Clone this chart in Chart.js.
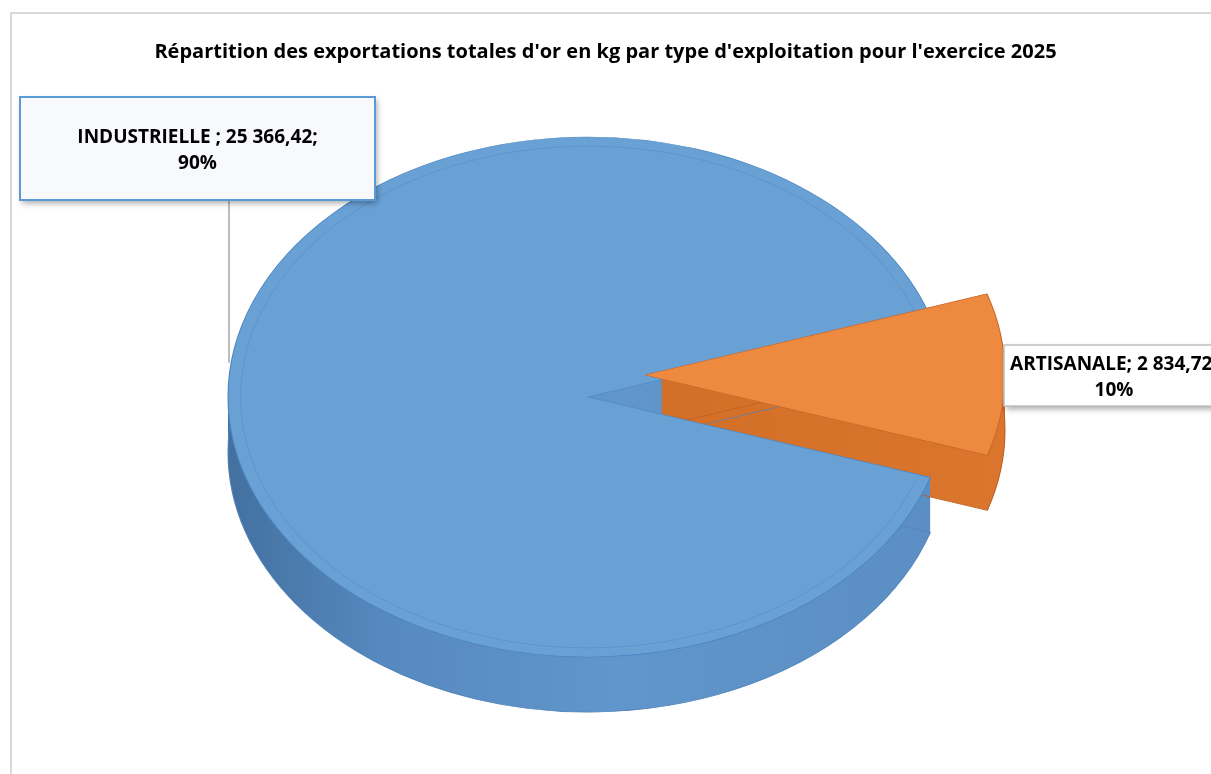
<!DOCTYPE html>
<html>
<head>
<meta charset="utf-8">
<title>Exportations d'or 2025</title>
<script src="https://cdn.jsdelivr.net/npm/chart.js@4.4.1/dist/chart.umd.min.js"></script>
<style>
  html, body { margin: 0; padding: 0; background: #fff; }
  #wrap { width: 1211px; height: 774px; position: relative; overflow: hidden; }
</style>
</head>
<body>
<div id="wrap"><canvas id="pie" width="1211" height="774"></canvas></div>
<script>
// data
const categories = ['INDUSTRIELLE ', 'ARTISANALE'];
const exportsKg = [25366.42, 2834.72];
const titleText = "Répartition des exportations totales d'or en kg par type d'exploitation pour l'exercice 2025";

// look of the fake 3d pie (screen px)
const PIE = { cx: 588, cy: 397, rx: 360, ry: 260, depth: 55 };
const explodeXY = [[0, 0], [57, -22]];
const topColors = ['#6aa1d5', '#ee8a40'];
const edgeColors = ['#4a86c3', '#c8672a'];
const FONT = "'Open Sans', 'DejaVu Sans', sans-serif";

const labelBoxes = [
  { x: 20, y: 97, w: 355, h: 103, fill: '#f7f9fd', stroke: '#5b9bd5', lw: 2 },
  { x: 1004, y: 345, w: 220, h: 61, fill: '#ffffff', stroke: '#bfbfbf', lw: 1.5 }
];

function fmtFr(v) {
  const parts = v.toFixed(2).split('.');
  return parts[0].replace(/\B(?=(\d{3})+(?!\d))/g, ' ') + ',' + parts[1];
}

function sideFill(ctx, k, x0, x1) {
  const g = ctx.createLinearGradient(x0, 0, x1, 0);
  if (k === 0) {
    g.addColorStop(0, '#43709f');
    g.addColorStop(0.2, '#5689bf');
    g.addColorStop(0.5, '#6096cb');
    g.addColorStop(1, '#5a8cc2');
  } else {
    g.addColorStop(0, '#c8661f');
    g.addColorStop(1, '#dd772f');
  }
  return g;
}

// squash the flat pie into an ellipse, extrude it and pull the small slice out
const pie3d = {
  id: 'pie3d',
  beforeDraw(chart) {
    const ctx = chart.ctx;
    ctx.save();
    ctx.strokeStyle = '#d9d9d9';
    ctx.lineWidth = 2;
    ctx.beginPath();
    ctx.moveTo(11, 800);
    ctx.lineTo(11, 13);
    ctx.lineTo(1220, 13);
    ctx.stroke();
    ctx.restore();
  },
  beforeDatasetsDraw(chart) {
    const ctx = chart.ctx;
    const arcs = chart.getDatasetMeta(0).data;
    const a0 = arcs[0];
    const r0 = a0.outerRadius;
    const sx = PIE.rx / r0, sy = PIE.ry / r0;
    ctx.save();
    ctx.translate(PIE.cx, PIE.cy);
    ctx.scale(sx, sy);
    ctx.translate(-a0.x, -a0.y);

    const paint = (arc, k, opts, dy) => {
      const fake = Object.create(arc);
      fake.options = Object.assign({}, arc.options, opts);
      ctx.save();
      ctx.translate(explodeXY[k][0] / sx, explodeXY[k][1] / sy + dy);
      Chart.ArcElement.prototype.draw.call(fake, ctx);
      ctx.restore();
    };

    const fills = arcs.map((arc, k) => sideFill(ctx, k, a0.x - r0, a0.x + r0 + 60));
    for (let i = PIE.depth; i >= 1; i--) {
      arcs.forEach((arc, k) => paint(arc, k, { backgroundColor: fills[k], borderWidth: 0 }, i / sy));
    }
    arcs.forEach((arc, k) => paint(arc, k, { backgroundColor: 'rgba(0,0,0,0)', borderColor: k === 0 ? '#5283b8' : '#b85f22', borderWidth: 1 }, PIE.depth / sy));
    // top faces
    arcs.forEach((arc, k) => paint(arc, k, {}, 0));

    // faint bevel line on top face of the big slice
    ctx.strokeStyle = 'rgba(70,120,180,0.4)';
    ctx.lineWidth = 1 / sx;
    ctx.beginPath();
    ctx.arc(a0.x, a0.y, r0 * 0.965, a0.startAngle + 0.03, a0.endAngle - 0.03);
    ctx.stroke();
    ctx.restore();
    return false;
  }
};

const labelBoxesPlugin = {
  id: 'labelBoxes',
  afterDraw(chart) {
    const ctx = chart.ctx;
    const total = exportsKg.reduce((s, v) => s + v, 0);
    // leader line from the industrial box down to the rim
    const lx = 229;
    const dx = (lx - PIE.cx) / PIE.rx;
    const ly = PIE.cy - PIE.ry * Math.sqrt(Math.max(0, 1 - dx * dx)) - 15;
    ctx.save();
    ctx.strokeStyle = '#a6a6a6';
    ctx.lineWidth = 1.5;
    ctx.beginPath();
    ctx.moveTo(lx, labelBoxes[0].y + labelBoxes[0].h);
    ctx.lineTo(lx, ly);
    ctx.stroke();
    ctx.restore();

    categories.forEach((cat, k) => {
      const b = labelBoxes[k];
      ctx.save();
      ctx.shadowColor = 'rgba(0,0,0,0.35)';
      ctx.shadowBlur = 6;
      ctx.shadowOffsetX = 2;
      ctx.shadowOffsetY = 3;
      ctx.fillStyle = b.fill;
      ctx.fillRect(b.x, b.y, b.w, b.h);
      ctx.restore();
      ctx.save();
      ctx.strokeStyle = b.stroke;
      ctx.lineWidth = b.lw;
      ctx.strokeRect(b.x, b.y, b.w, b.h);
      const pct = Math.round(exportsKg[k] / total * 100) + '%';
      const line1 = cat + '; ' + fmtFr(exportsKg[k]) + ';';
      ctx.fillStyle = '#000';
      ctx.font = 'bold 19px ' + FONT;
      ctx.textAlign = 'center';
      ctx.textBaseline = 'middle';
      const cx = b.x + b.w / 2, cy = b.y + b.h / 2;
      ctx.fillText(line1, cx, cy - 10.5);
      ctx.fillText(pct, cx, cy + 15);
      ctx.restore();
    });
  }
};

new Chart(document.getElementById('pie'), {
  type: 'pie',
  data: {
    labels: categories,
    datasets: [{
      data: exportsKg,
      backgroundColor: topColors,
      borderColor: edgeColors,
      borderWidth: 1,
      clip: false
    }]
  },
  options: {
    responsive: false,
    animation: false,
    devicePixelRatio: 1,
    rotation: 108,
    layout: { padding: 0 },
    plugins: {
      legend: { display: false },
      tooltip: { enabled: false },
      title: {
        display: true,
        text: titleText,
        color: '#000',
        font: { family: FONT, size: 20, weight: 'bold' },
        padding: { top: 40, bottom: 10 }
      }
    }
  },
  plugins: [pie3d, labelBoxesPlugin]
});
</script>
</body>
</html>
